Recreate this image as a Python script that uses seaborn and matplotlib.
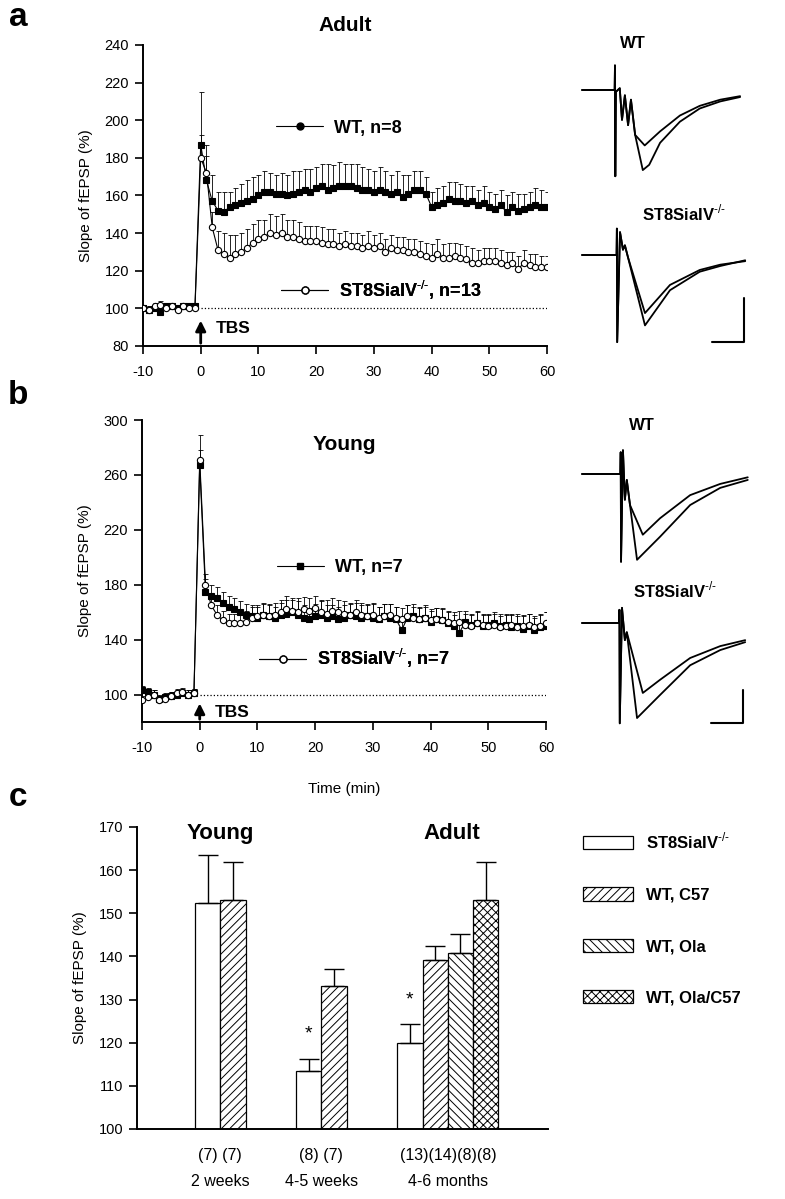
import numpy as np
import matplotlib
matplotlib.use('Agg')
import matplotlib.pyplot as plt
import seaborn as sns
from matplotlib.lines import Line2D
from matplotlib.patches import Patch

sns.set_style('ticks')
plt.rcParams['font.family'] = ['Liberation Sans', 'DejaVu Sans']
plt.rcParams['mathtext.fontset'] = 'custom'
plt.rcParams['mathtext.rm'] = 'Liberation Sans'
plt.rcParams['mathtext.bf'] = 'Liberation Sans:bold'
plt.rcParams['hatch.linewidth'] = 0.7
plt.rcParams['axes.unicode_minus'] = False
for k in ['text.color', 'axes.labelcolor', 'xtick.color', 'ytick.color', 'axes.edgecolor']:
    plt.rcParams[k] = 'black'

# ---------------- data ----------------
times = list(range(-10, 61))  # min, 1 point per minute

# adult
adult_wt = [100, 99, 100, 98, 101, 101, 100, 101, 101, 101,
            187, 168, 157, 152, 151, 154, 155, 156, 157, 158,
            160, 162, 162, 161, 161, 160, 161, 162, 163, 162,
            164, 165, 163, 164, 165, 165, 165, 164, 163, 163,
            162, 163, 162, 161, 162, 159, 161, 163, 163, 161,
            154, 155, 156, 158, 157, 157, 156, 157, 155, 156,
            154, 153, 155, 151, 154, 152, 153, 154, 155, 154, 154]
adult_wt_err = [2, 2, 2, 2, 2, 2, 2, 2, 2, 2,
                28, 19, 14, 10, 11, 8, 9, 10, 11, 12,
                11, 11, 10, 10, 11, 11, 12, 11, 11, 12,
                11, 12, 14, 12, 13, 12, 12, 13, 12, 11,
                11, 12, 11, 10, 11, 12, 10, 10, 10, 9,
                8, 9, 9, 9, 10, 9, 9, 8, 8, 9,
                8, 8, 8, 9, 8, 9, 8, 8, 9, 9, 8]
adult_ko = [100, 99, 101, 102, 100, 101, 99, 101, 100, 100,
            180, 172, 143, 131, 129, 127, 129, 130, 132, 135,
            137, 138, 140, 139, 140, 138, 138, 137, 136, 136,
            136, 135, 134, 134, 133, 134, 133, 133, 132, 133,
            132, 133, 130, 132, 131, 131, 130, 130, 129, 128,
            127, 129, 127, 127, 128, 127, 126, 124, 124, 125,
            125, 125, 124, 123, 124, 121, 124, 123, 122, 122, 122]
adult_ko_err = [2, 2, 2, 2, 2, 2, 2, 2, 2, 2,
                12, 9, 8, 10, 11, 12, 10, 10, 10, 10,
                10, 9, 10, 10, 10, 9, 9, 9, 8, 8,
                8, 8, 8, 8, 7, 7, 7, 7, 7, 8,
                7, 7, 7, 7, 7, 7, 7, 7, 7, 7,
                7, 8, 7, 8, 7, 7, 7, 8, 7, 7,
                7, 7, 7, 7, 6, 7, 7, 6, 7, 6, 6]

# young
young_wt = [103, 102, 100, 97, 98, 99, 100, 101, 100, 101,
            267, 175, 172, 170, 167, 164, 162, 160, 158, 157,
            156, 158, 157, 156, 158, 159, 160, 158, 156, 155,
            157, 158, 156, 157, 155, 156, 158, 157, 156, 157,
            156, 155, 157, 156, 155, 147, 156, 157, 155, 156,
            153, 155, 154, 152, 150, 145, 153, 151, 152, 150,
            151, 152, 150, 151, 149, 150, 148, 150, 147, 149, 150]
young_wt_err = [3, 3, 3, 3, 3, 3, 3, 3, 3, 3,
                11, 9, 8, 8, 8, 8, 8, 8, 8, 8,
                8, 9, 8, 8, 9, 10, 9, 10, 9, 8,
                9, 10, 9, 8, 9, 9, 9, 10, 9, 9,
                10, 9, 9, 10, 9, 9, 9, 9, 9, 9,
                8, 8, 9, 8, 8, 8, 8, 8, 9, 8,
                8, 8, 9, 8, 9, 9, 9, 9, 9, 10, 10]
young_ko = [96, 98, 100, 96, 97, 99, 101, 102, 100, 101,
            271, 180, 165, 158, 154, 152, 152, 152, 153, 156,
            157, 158, 157, 158, 160, 162, 161, 160, 162, 161,
            163, 160, 159, 161, 160, 159, 158, 160, 158, 157,
            158, 156, 157, 158, 156, 155, 157, 156, 155, 156,
            154, 155, 154, 153, 152, 153, 151, 150, 152, 151,
            150, 151, 149, 150, 151, 149, 150, 151, 149, 150, 152]
young_ko_err = [3, 3, 3, 3, 3, 3, 3, 3, 3, 3,
                18, 8, 7, 7, 7, 7, 7, 7, 8, 8,
                8, 8, 9, 9, 9, 10, 9, 10, 9, 9,
                9, 9, 10, 9, 9, 9, 8, 9, 9, 8,
                9, 8, 9, 8, 8, 8, 8, 8, 8, 8,
                8, 8, 8, 8, 8, 8, 8, 8, 8, 8,
                8, 8, 8, 8, 8, 8, 8, 8, 8, 8, 8]

# panel c
bar_pos = [0, 1, 4, 5, 8, 9, 10, 11]
bar_mean = [152.4, 153.1, 113.5, 133.2, 119.9, 139.2, 140.8, 153.0]
bar_err = [11.1, 8.8, 2.7, 3.8, 4.5, 3.3, 4.4, 8.9]
bar_group = ['ST8', 'C57', 'ST8', 'C57', 'ST8', 'C57', 'Ola', 'Ola/C57']
group_pos = [0.5, 4.5, 9.5]
group_labels = ['(7) (7)\n2 weeks', '(8) (7)\n4-5 weeks', '(13)(14)(8)(8)\n4-6 months']
hatches = {'ST8': '', 'C57': '////', 'Ola': '\\\\\\\\', 'Ola/C57': 'xxxx'}
KO = r'ST8SiaIV$^{\text{-/-}}$'
legend_c = [('ST8', KO), ('C57', 'WT, C57'), ('Ola', 'WT, Ola'), ('Ola/C57', 'WT, Ola/C57')]

# example traces (ms, mV)
wt_a_t1 = [0, 5.1, 5.15, 5.2, 5.3, 5.9, 6.25, 6.7, 7.2, 7.65, 8.3, 9.5, 10.5, 12.2, 15.3, 18.4, 21.6, 24.7]
wt_a_v1 = [0, 0, 0.28, -0.98, -0.02, 0.02, -0.34, -0.06, -0.40, -0.11, -0.51, -0.91, -0.85, -0.60, -0.36, -0.21, -0.13, -0.08]
wt_a_t2 = [0, 5.1, 5.15, 5.2, 5.3, 5.9, 6.25, 6.7, 7.2, 7.65, 8.3, 9.8, 12.2, 15.3, 18.4, 21.6, 24.7]
wt_a_v2 = [0, 0, 0.28, -0.98, -0.02, 0.02, -0.34, -0.06, -0.40, -0.11, -0.51, -0.63, -0.47, -0.29, -0.18, -0.11, -0.07]
ko_a_t1 = [0, 5.4, 5.45, 5.5, 5.94, 6.4, 6.7, 7.2, 9.84, 13.75, 18.4, 21.6, 25.5]
ko_a_v1 = [0, 0, 0.30, -0.99, 0.26, 0.06, 0.11, -0.03, -0.80, -0.40, -0.19, -0.125, -0.06]
ko_a_t2 = [0, 5.4, 5.45, 5.5, 5.94, 6.4, 6.7, 7.2, 9.84, 13.75, 18.4, 21.6, 25.5]
ko_a_v2 = [0, 0, 0.30, -0.99, 0.26, 0.06, 0.11, -0.03, -0.66, -0.34, -0.17, -0.11, -0.07]
wt_y_t1 = [0, 6.0, 6.05, 6.1, 6.4, 6.7, 7.0, 7.5, 8.6, 12.2, 16.9, 21.6, 25.9]
wt_y_v1 = [0, 0, 0.33, -1.33, 0.36, -0.39, -0.09, -0.47, -1.30, -0.95, -0.47, -0.21, -0.09]
wt_y_t2 = [0, 6.0, 6.05, 6.1, 6.4, 6.7, 7.0, 7.5, 9.5, 12.2, 16.9, 21.6, 25.9]
wt_y_v2 = [0, 0, 0.33, -1.33, 0.36, -0.39, -0.09, -0.47, -0.92, -0.67, -0.32, -0.15, -0.05]
ko_y_t1 = [0, 5.8, 5.85, 5.9, 6.25, 6.7, 7.0, 8.6, 12.2, 16.9, 21.6, 25.5]
ko_y_v1 = [0, 0, 0.20, -1.52, 0.23, -0.26, -0.14, -1.44, -1.09, -0.64, -0.41, -0.29]
ko_y_t2 = [0, 5.8, 5.85, 5.9, 6.25, 6.7, 7.0, 9.5, 12.2, 16.9, 21.6, 25.5]
ko_y_v2 = [0, 0, 0.20, -1.52, 0.23, -0.26, -0.14, -1.06, -0.86, -0.53, -0.35, -0.26]
scale_ms, scale_mv = 5, 0.5

# ---------------- figure ----------------
W, H = 785, 1199
fig = plt.figure(figsize=(W / 100, H / 100), dpi=100)


def px_axes(left, top, right, bottom):
    return fig.add_axes([left / W, 1 - bottom / H, (right - left) / W, (bottom - top) / H])


def style(ax):
    sns.despine(ax=ax)
    for s in ['left', 'bottom']:
        ax.spines[s].set_linewidth(1.4)
    ax.tick_params(direction='out', length=6, width=1.2, pad=4, labelsize=10.5)


def ltp(ax, wt, wt_err, ko, ko_err):
    for vals, errs, mk, fc in [(wt, wt_err, 's', 'black'), (ko, ko_err, 'o', 'white')]:
        ax.errorbar(times, vals, yerr=[np.zeros(len(errs)), errs], fmt='none', ecolor='black',
                    elinewidth=0.6, capsize=1.8, capthick=0.6, zorder=2)
        sns.lineplot(x=times, y=vals, ax=ax, color='black', lw=0.8, marker=mk, markersize=4.5,
                     markerfacecolor=fc, markeredgecolor='black', markeredgewidth=0.8, zorder=3)
    ax.hlines(100, 0, 60, colors='black', linestyles=':', lw=0.9)
    ax.set_xlim(-10, 60)
    ax.set_xticks(range(-10, 61, 10))
    style(ax)
    ax.tick_params(axis='x', pad=8)
    ax.set_ylabel('Slope of fEPSP (%)', fontsize=11, labelpad=8)


def legend_at(ax, handle, label, x, y):
    leg = ax.legend([handle], [label], loc='center left', bbox_to_anchor=(x, y), frameon=False,
                    prop={'weight': 'bold', 'size': 13}, handlelength=2.6, handletextpad=0.6,
                    borderpad=0, borderaxespad=0)
    ax.add_artist(leg)


def tbs(ax, tip, ty):
    ax.annotate('', xy=(0, tip), xytext=(0, ax.get_ylim()[0]),
                arrowprops=dict(arrowstyle='-|>', lw=2, color='black', mutation_scale=15))
    ax.text(2.6, ty, 'TBS', fontsize=12.5, fontweight='bold', va='center')


# panel a
axa = px_axes(143, 45, 547, 346)
ltp(axa, adult_wt, adult_wt_err, adult_ko, adult_ko_err)
axa.set_ylim(80, 240)
axa.set_yticks(range(80, 241, 20))
axa.set_xlabel('')
axa.set_title('Adult', fontsize=15, fontweight='bold', pad=10)
tbs(axa, 95, 89.5)
legend_at(axa, Line2D([], [], color='black', lw=0.8, marker='o', markersize=5, markerfacecolor='black'),
          'WT, n=8', 0.33, 0.724)
legend_at(axa, Line2D([], [], color='black', lw=0.8, marker='o', markersize=5, markerfacecolor='white',
                      markeredgecolor='black'), KO + ', n=13', 0.342, 0.186)

# panel b
axb = px_axes(142, 420, 546, 722)
ltp(axb, young_wt, young_wt_err, young_ko, young_ko_err)
axb.set_ylim(80, 300)
axb.set_yticks(range(100, 301, 40))
axb.set_xlabel('Time (min)', fontsize=11, labelpad=19)
axb.text(25, 282, 'Young', fontsize=15, fontweight='bold', ha='center', va='center')
tbs(axb, 95.6, 87)
legend_at(axb, Line2D([], [], color='black', lw=0.8, marker='s', markersize=5, markerfacecolor='black'),
          'WT, n=7', 0.334, 0.51)
legend_at(axb, Line2D([], [], color='black', lw=0.8, marker='o', markersize=5, markerfacecolor='white',
                      markeredgecolor='black'), KO + ', n=7', 0.29, 0.21)

# panel c
axc = px_axes(137, 827, 548, 1129)
sns.barplot(x=bar_pos, y=bar_mean, native_scale=True, color='white', saturation=1,
            edgecolor='black', linewidth=0.9, width=1, errorbar=None, ax=axc)
for p, g in zip(axc.patches, bar_group):
    p.set_hatch(hatches[g])
axc.errorbar(bar_pos, bar_mean, yerr=[np.zeros(len(bar_err)), bar_err], fmt='none', ecolor='black',
             elinewidth=1, capsize=7, capthick=1, zorder=3)
axc.set_xlim(-2.79, 13.46)
axc.set_ylim(100, 170)
axc.set_yticks(range(100, 171, 10))
style(axc)
axc.set_xticks(group_pos)
axc.set_xticklabels(group_labels, fontsize=11.5)
for t in axc.get_xticklabels():
    t.set_linespacing(1.9)
axc.tick_params(axis='x', length=0, pad=14)
axc.set_ylabel('Slope of fEPSP (%)', fontsize=11, labelpad=8)
axc.text(0.5, 168.5, 'Young', fontsize=16, fontweight='bold', ha='center', va='center')
axc.text(9.66, 168.5, 'Adult', fontsize=16, fontweight='bold', ha='center', va='center')
axc.text(4, 122, '*', fontsize=14, ha='center', va='center')
axc.text(8, 130, '*', fontsize=14, ha='center', va='center')
fig.legend(handles=[Patch(facecolor='white', edgecolor='black', hatch=hatches[k], lw=0.9) for k, _ in legend_c],
           labels=[l for _, l in legend_c], loc='upper left', bbox_to_anchor=(583 / W, 1 - 831 / H),
           frameon=False, prop={'weight': 'bold', 'size': 12}, handlelength=3.0, handleheight=0.85,
           labelspacing=2.15, handletextpad=0.8, borderpad=0, borderaxespad=0)


# traces
def trace_axes(x0, base_y, px_ms, px_mv):
    left, right = 570, 765
    top, bottom = base_y - 45, base_y + 110
    ax = px_axes(left, top, right, bottom)
    ax.set_xlim((left - x0) / px_ms, (right - x0) / px_ms)
    ax.set_ylim(-(bottom - base_y) / px_mv, (base_y - top) / px_mv)
    ax.axis('off')
    return ax


for base, px_mv, (t1, v1, t2, v2), bar in [
        (90, 88, (wt_a_t1, wt_a_v1, wt_a_t2, wt_a_v2), None),
        (255, 88, (ko_a_t1, ko_a_v1, ko_a_t2, ko_a_v2), (20.3, -0.99)),
        (474, 66, (wt_y_t1, wt_y_v1, wt_y_t2, wt_y_v2), None),
        (623, 66, (ko_y_t1, ko_y_v1, ko_y_t2, ko_y_v2), (20.2, -1.52))]:
    ax = trace_axes(582, base, 6.4, px_mv)
    sns.lineplot(x=t1, y=v1, ax=ax, sort=False, color='black', lw=1.3, estimator=None)
    sns.lineplot(x=t2, y=v2, ax=ax, sort=False, color='black', lw=1.3, estimator=None)
    if bar is not None:
        ax.plot([bar[0], bar[0] + scale_ms, bar[0] + scale_ms], [bar[1], bar[1], bar[1] + scale_mv],
                color='black', lw=1.5)

fig.text(633 / W, 1 - 43 / H, 'WT', fontsize=12, fontweight='bold', ha='center', va='center')
fig.text(684 / W, 1 - 213 / H, KO, fontsize=12, fontweight='bold', ha='center', va='center')
fig.text(642 / W, 1 - 425 / H, 'WT', fontsize=12, fontweight='bold', ha='center', va='center')
fig.text(675 / W, 1 - 590 / H, KO, fontsize=12, fontweight='bold', ha='center', va='center')

for letter, y in [('a', 18), ('b', 395), ('c', 797)]:
    fig.text(18 / W, 1 - y / H, letter, fontsize=24, fontweight='bold', ha='center', va='center')

fig.savefig('out.png', dpi=100, facecolor='white')
